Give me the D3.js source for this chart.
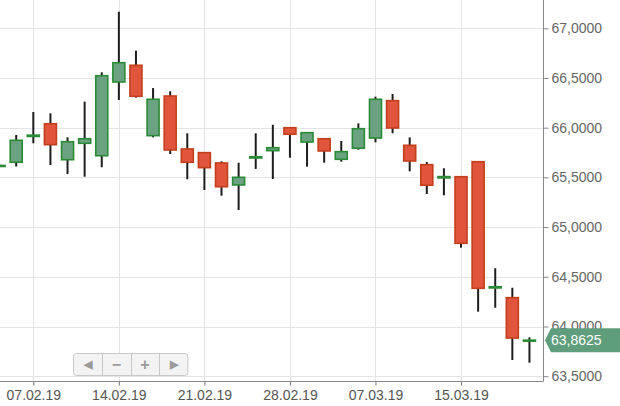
<!DOCTYPE html>
<html>
<head>
<meta charset="utf-8">
<script src="https://cdn.jsdelivr.net/npm/d3@7"></script>
<style>
  html, body { margin: 0; padding: 0; background: #fff; }
  svg { display: block; }
  text { font-family: "Liberation Sans", Arial, sans-serif; }
</style>
</head>
<body>
<svg id="chart" width="620" height="406"></svg>
<script>
// ---- data ----
const dates = ["05.02.19","06.02.19","07.02.19","08.02.19","11.02.19","12.02.19","13.02.19","14.02.19",
  "15.02.19","18.02.19","19.02.19","20.02.19","21.02.19","22.02.19","25.02.19","26.02.19",
  "27.02.19","28.02.19","01.03.19","04.03.19","05.03.19","06.03.19","07.03.19","11.03.19",
  "12.03.19","13.03.19","14.03.19","15.03.19","18.03.19","19.03.19","20.03.19","21.03.19"];
const open  = [65.610,65.652,65.912,66.040,65.678,65.843,65.718,66.460,66.628,65.920,66.319,65.786,65.749,65.645,65.424,65.695,
  65.769,66.000,65.856,65.889,65.682,65.793,65.896,66.272,65.823,65.628,65.495,65.507,65.658,64.388,64.290,63.855];
const high  = [65.640,65.927,66.158,66.145,65.903,66.262,66.557,67.167,66.775,66.399,66.366,65.944,65.749,65.662,65.648,65.944,
  66.030,66.000,65.950,65.889,65.866,66.044,66.312,66.339,65.903,65.655,65.592,65.507,65.658,64.586,64.390,63.891];
const low   = [65.600,65.610,65.843,65.625,65.534,65.507,65.602,66.279,66.302,65.903,65.735,65.481,65.373,65.316,65.172,65.585,
  65.484,65.698,65.608,65.648,65.658,65.779,65.853,65.944,65.561,65.333,65.320,64.793,64.149,64.189,63.663,63.636];
const close = [65.620,65.873,65.925,65.829,65.859,65.889,66.523,66.654,66.316,66.286,65.776,65.652,65.598,65.406,65.501,65.708,
  65.799,65.934,65.950,65.766,65.759,65.990,66.286,65.997,65.665,65.421,65.508,64.837,64.384,64.400,63.884,63.8625];
const xTickLabels = ["07.02.19","14.02.19","21.02.19","28.02.19","07.03.19","15.03.19"];
const yTickValues = [63.5,64.0,64.5,65.0,65.5,66.0,66.5,67.0];
const lastPrice = 63.8625;
const navButtons = ["◀","−","+","▶"];

// ---- layout ----
const svg = d3.select("#chart");
const plotRight = 543.5, axisY = 381.5;
const x = d3.scalePoint().domain(dates).range([-0.9, 529.45]).padding(0);
const y = d3.scaleLinear().domain([63.5, 67.0]).range([376.2, 28.3]);
const fmt = v => d3.format(".4f")(v).replace(".", ",");

const up = { fill: "#6ba382", stroke: "#2b8a35" };
const down = { fill: "#e0553b", stroke: "#c23f1e" };

// grid
const grid = svg.append("g");
grid.selectAll("line.h").data(yTickValues).join("line")
  .attr("x1", 0).attr("x2", plotRight)
  .attr("y1", d => Math.round(y(d)) + 0.5).attr("y2", d => Math.round(y(d)) + 0.5)
  .attr("stroke", "#e4e4e4").attr("stroke-width", 1);
grid.selectAll("line.v").data(xTickLabels).join("line")
  .attr("x1", d => Math.round(x(d)) + 0.5).attr("x2", d => Math.round(x(d)) + 0.5)
  .attr("y1", 0).attr("y2", axisY)
  .attr("stroke", "#e4e4e4").attr("stroke-width", 1);

// candles
const idx = d3.range(dates.length);
const candles = svg.append("g");
candles.selectAll("line.wick").data(idx).join("line")
  .attr("x1", i => x(dates[i])).attr("x2", i => x(dates[i]))
  .attr("y1", i => y(high[i])).attr("y2", i => y(low[i]))
  .attr("stroke", "#1e1e1e").attr("stroke-width", 2);
candles.selectAll("rect.body").data(idx).join("rect")
  .attr("x", i => x(dates[i]) - 6)
  .attr("width", 12)
  .attr("y", i => y(Math.max(open[i], close[i])))
  .attr("height", i => Math.max(1, Math.abs(y(open[i]) - y(close[i]))))
  .attr("fill", i => close[i] >= open[i] ? up.fill : down.fill)
  .attr("stroke", i => close[i] >= open[i] ? up.stroke : down.stroke)
  .attr("stroke-width", 1.6);

// x axis
const xAxis = d3.axisBottom(x).tickValues(xTickLabels).tickSize(4).tickPadding(5);
const gx = svg.append("g").attr("transform", `translate(0,${axisY})`).call(xAxis);
gx.select(".domain").remove();
gx.selectAll(".tick line").attr("stroke", "#777");
gx.selectAll(".tick text").attr("fill", "#555").attr("font-size", 14)
  .attr("font-family", "Liberation Sans, Arial, sans-serif");
svg.append("line").attr("x1", 0).attr("x2", plotRight).attr("y1", axisY).attr("y2", axisY)
  .attr("stroke", "#888").attr("stroke-width", 1);

// y axis
const yAxis = d3.axisRight(y).tickValues(yTickValues).tickSize(5).tickPadding(3).tickFormat(fmt);
const gy = svg.append("g").attr("transform", `translate(${plotRight},0)`).call(yAxis);
gy.select(".domain").remove();
gy.selectAll(".tick line").attr("stroke", "#888");
gy.selectAll(".tick text").attr("fill", "#666").attr("font-size", 14)
  .attr("font-family", "Liberation Sans, Arial, sans-serif");
svg.append("line").attr("x1", plotRight).attr("x2", plotRight).attr("y1", 0).attr("y2", axisY)
  .attr("stroke", "#888").attr("stroke-width", 1);

// last price tag
const ly = y(lastPrice);
const tag = svg.append("g");
tag.append("path")
  .attr("d", `M${plotRight + 1.5},${ly} L${plotRight + 7.5},${ly - 12} L620,${ly - 12} L620,${ly + 12} L${plotRight + 7.5},${ly + 12} Z`)
  .attr("fill", "#5f9e7c");
tag.append("text").attr("x", 551).attr("y", ly).attr("dy", "0.35em")
  .attr("fill", "#fff").attr("font-size", 14).text(fmt(lastPrice));

// navigation buttons
const nav = svg.append("g");
const bx = 73.5, by = 353.5, bw = 28.6, bh = 22;
const navScale = d3.scaleBand().domain(navButtons).range([bx, bx + bw * 4]).padding(0);
nav.append("rect").attr("x", bx).attr("y", by).attr("width", bw * 4).attr("height", bh)
  .attr("rx", 3).attr("fill", "#f3f3f3").attr("stroke", "#c8c8c8");
nav.selectAll("line.sep").data(navButtons.slice(1)).join("line")
  .attr("x1", d => Math.round(navScale(d)) + 0.5).attr("x2", d => Math.round(navScale(d)) + 0.5)
  .attr("y1", by).attr("y2", by + bh).attr("stroke", "#c8c8c8");
nav.selectAll("text").data(navButtons).join("text")
  .attr("x", d => navScale(d) + bw / 2).attr("y", by + bh / 2).attr("dy", "0.35em")
  .attr("text-anchor", "middle").attr("fill", "#9a9a9a")
  .attr("font-size", d => (d === "◀" || d === "▶") ? 11 : 16)
  .attr("font-weight", "bold")
  .attr("font-family", "DejaVu Sans, sans-serif")
  .text(d => d);
</script>
</body>
</html>
